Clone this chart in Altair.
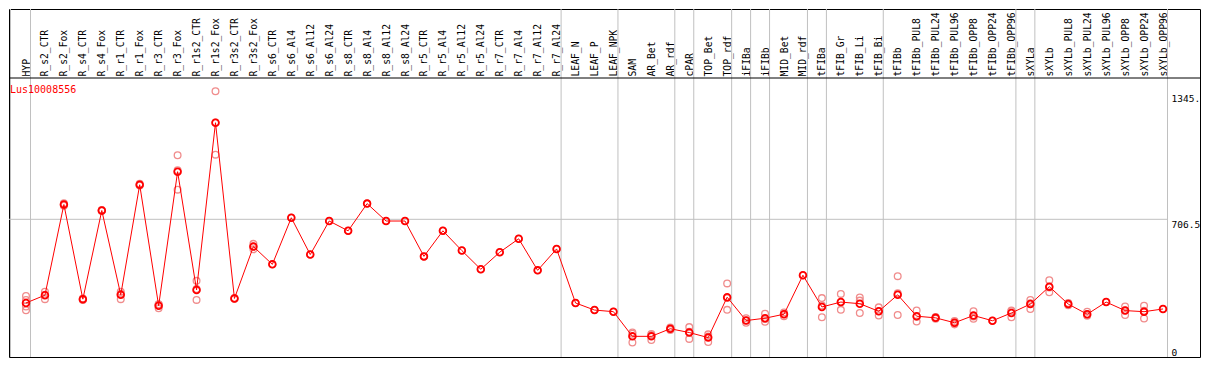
import altair as alt
import pandas as pd

gene = "Lus10008556"

categories = [
    "HYP", "R_s2_CTR", "R_s2_Fox", "R_s4_CTR", "R_s4_Fox", "R_r1_CTR", "R_r1_Fox",
    "R_r3_CTR", "R_r3_Fox", "R_r1s2_CTR", "R_r1s2_Fox", "R_r3s2_CTR", "R_r3s2_Fox",
    "R_s6_CTR", "R_s6_Al4", "R_s6_Al12", "R_s6_Al24", "R_s8_CTR", "R_s8_Al4",
    "R_s8_Al12", "R_s8_Al24", "R_r5_CTR", "R_r5_Al4", "R_r5_Al12", "R_r5_Al24",
    "R_r7_CTR", "R_r7_Al4", "R_r7_Al12", "R_r7_Al24", "LEAF_N", "LEAF_P", "LEAF_NPK",
    "SAM", "AR_Bet", "AR_rdf", "cPAR", "TOP_Bet", "TOP_rdf", "iFIBa", "iFIBb",
    "MID_Bet", "MID_rdf", "tFIBa", "tFIB_Gr", "tFIB_Li", "tFIB_Bi", "tFIBb",
    "tFIBb_PUL8", "tFIBb_PUL24", "tFIBb_PUL96", "tFIBb_OPP8", "tFIBb_OPP24",
    "tFIBb_OPP96", "sXYLa", "sXYLb", "sXYLb_PUL8", "sXYLb_PUL24", "sXYLb_PUL96",
    "sXYLb_OPP8", "sXYLb_OPP24", "sXYLb_OPP96",
]

means = [
    245, 288, 788, 266, 755, 290, 897, 230, 969, 317, 1239, 270, 556,
    458, 715, 512, 697, 643, 793, 697, 697, 502, 643, 534, 431, 525, 599, 425, 543,
    245, 206, 197, 61, 61, 103, 82, 54, 277, 148, 161, 183, 398, 223, 250, 241, 199,
    290, 172, 163, 136, 176, 147, 190, 239, 335, 239, 183, 250, 203, 197, 212,
]

replicates = [
    [284, 262, 226, 205], [307, 290, 266], [795, 788, 781], [270, 266, 262],
    [758, 755, 752], [307, 296, 266], [903, 895, 893], [238, 236, 216],
    [1060, 977, 870], [367, 322, 262], [1413, 1241, 1063], [272, 270, 268],
    [571, 556, 541],
    [458], [715], [512], [697], [643], [793], [697], [697], [502], [643], [534],
    [431], [525], [599], [425], [543],
    [245], [206], [197],
    [82, 75, 27], [74, 68, 41], [110, 103, 96], [112, 86, 47], [72, 60, 30],
    [353, 272, 207], [161, 148, 136], [186, 156, 141], [193, 183, 172], [398],
    [272, 231, 166], [295, 249, 207], [275, 258, 190], [221, 200, 176],
    [393, 298, 179], [204, 169, 143], [168, 163, 158], [145, 136, 127],
    [199, 170, 158], [147], [204, 200, 166], [262, 243, 212], [371, 330, 304],
    [245, 239, 233], [197, 183, 175], [250], [226, 204, 179], [230, 202, 159], [212],
]

separators_after = [
    "HYP", "R_r7_Al24", "LEAF_NPK", "AR_rdf", "cPAR", "TOP_rdf", "iFIBa", "iFIBb",
    "MID_rdf", "tFIBa", "tFIB_Bi", "tFIBb_OPP96", "sXYLa", "sXYLb_OPP96",
]

y_ticks = [0, 706.5, 1345]
y_tick_labels = ["0", "706.5", "1345."]
grid_values = [706.5]

# layout (pixels)
W, H = 1191, 348
HEADER = 69
STEP = 18.95
X0 = 17
mono = "DejaVu Sans Mono"
RED = "#ff0000"
PINK = "#f08c8c"
GRAY = "#c0c0c0"

idx = list(range(len(categories)))
cat_index = {c: i for i, c in enumerate(categories)}

df_mean = pd.DataFrame({"cat": categories, "idx": idx, "value": means})
df_rep = pd.DataFrame(
    [(c, cat_index[c], v) for c, reps in zip(categories, replicates) for v in reps],
    columns=["cat", "idx", "value"],
)
df_sep = pd.DataFrame({"idx": [cat_index[c] for c in separators_after]})
df_first = pd.DataFrame({"idx": [0]})
df_grid = pd.DataFrame({"value": grid_values})
df_one = pd.DataFrame({"t": [gene]})

xscale = alt.Scale(domain=[-X0 / STEP, (W - X0) / STEP], nice=False, zero=False)
yscale = alt.Scale(domain=[0, 1485.8], range=[338.4, HEADER], nice=False, zero=False)

cat_array = "[" + ",".join(f"'{c}'" for c in categories) + "]"
x_label_expr = f"{cat_array}[round(datum.value)]"
y_label_expr = " : ".join(
    f"datum.value == {v} ? '{l}'" for v, l in zip(y_ticks[:-1], y_tick_labels[:-1])
) + f" : '{y_tick_labels[-1]}'"

xaxis = alt.Axis(
    orient="top", offset=-HEADER, values=idx, labelExpr=x_label_expr, labelAngle=270,
    labelAlign="left", labelBaseline="middle", labelPadding=2, ticks=False, domain=False,
    grid=False, title="", labelFont=mono, labelFontSize=9.7, labelColor="black",
    labelOverlap=False, labelBound=False, labelFlush=False,
)
yaxis = alt.Axis(
    orient="right", offset=-30, values=y_ticks, labelExpr=y_label_expr,
    labelBaseline={"condition": {"test": "datum.value > 1000", "value": "bottom"}, "value": "top"},
    labelAlign="left", labelPadding=1, ticks=False, domain=False, grid=False, title="",
    labelFont=mono, labelFontSize=9.5, labelColor="black", labelOverlap=False,
    labelFlush=False, labelBound=False,
)

X = alt.X("idx:Q", scale=xscale, axis=xaxis)
Y = alt.Y("value:Q", scale=yscale, axis=yaxis)

seps = alt.Chart(df_sep).mark_rule(color=GRAY, strokeWidth=1, xOffset=4.5).encode(
    x=X, y=alt.value(0), y2=alt.value(H)
)
first_sep = alt.Chart(df_first).mark_rule(color=GRAY, strokeWidth=1, xOffset=-15.5).encode(
    x=X, y=alt.value(0), y2=alt.value(H)
)
hgrid = alt.Chart(df_grid).mark_rule(color=GRAY, strokeWidth=1).encode(
    y=Y, x=alt.value(0), x2=alt.value(X0 + 60 * STEP + 4.5)
)
header_line = alt.Chart(df_one).mark_rule(color="black", strokeWidth=1).encode(
    y=alt.value(HEADER), x=alt.value(0), x2=alt.value(W)
)
reps_layer = alt.Chart(df_rep).mark_point(
    shape="circle", filled=False, color=PINK, size=45, strokeWidth=1.3, opacity=1
).encode(x=X, y=Y)
line_layer = alt.Chart(df_mean).mark_line(color=RED, strokeWidth=1).encode(
    x=X, y=Y, order=alt.Order("idx:Q")
)
mean_layer = alt.Chart(df_mean).mark_point(
    shape="circle", filled=False, color=RED, size=45, strokeWidth=1.8, opacity=1
).encode(x=X, y=Y)
title_layer = alt.Chart(df_one).mark_text(
    align="left", baseline="middle", color=RED, font=mono, fontSize=10
).encode(x=alt.value(1), y=alt.value(80.5), text="t:N")

chart = alt.layer(
    seps, first_sep, hgrid, header_line, reps_layer, line_layer, mean_layer, title_layer
).properties(
    width=W, height=H, padding=1, background="white",
    autosize=alt.AutoSizeParams(type="none"),
).configure_view(stroke="black", strokeWidth=1)

chart.save("out.html", embed_options={"renderer": "svg", "actions": False})
